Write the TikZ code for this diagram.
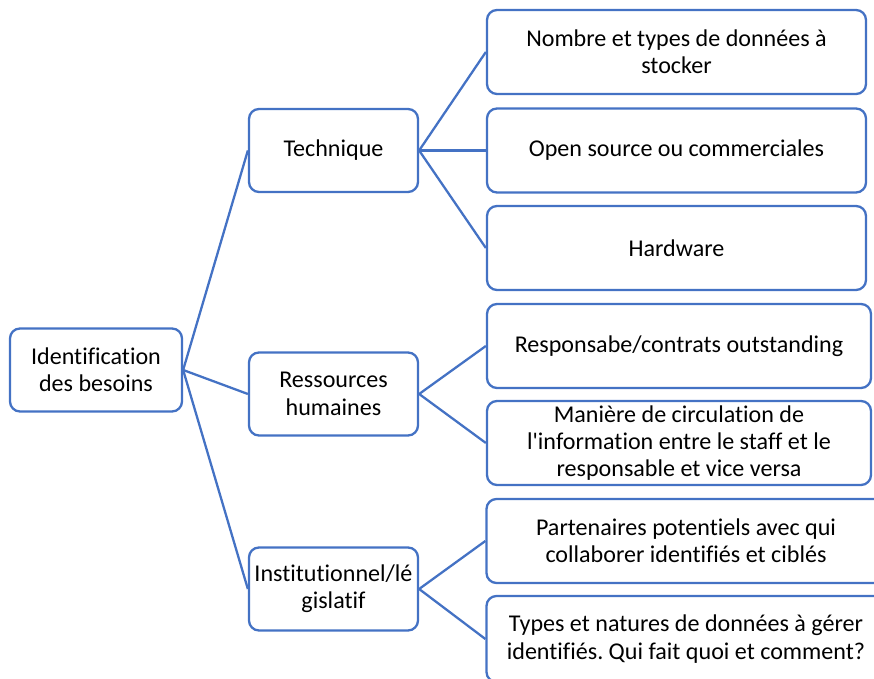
\documentclass[tikz,border=0pt]{standalone}
\usepackage{fontspec}
\setmainfont{Carlito}[Ligatures=NoCommon]
\usepackage{xcolor}
\definecolor{boxblue}{RGB}{68,114,196}
\usetikzlibrary{positioning}
\frenchspacing

\begin{document}
\begin{tikzpicture}[
  box/.style={draw=boxblue, line width=1.3pt, rounded corners=0.2cm, fill=white,
    align=center, font=\fontsize{13.7}{15.6}\selectfont, inner sep=2pt},
  rootbox/.style={box, minimum width=3.44cm, minimum height=1.66cm},
  midbox/.style={box, minimum width=3.38cm, minimum height=1.66cm},
  leafbox/.style={box, minimum width=7.58cm, minimum height=1.68cm},
  link/.style={draw=boxblue, line width=1.3pt}
]
  \useasboundingbox (0,0) rectangle (17.48,-13.58);
  \clip (0,0) rectangle (17.48,-13.58);
  % first level
  \node[rootbox] (root) at (1.92,-7.40) {Identification\\des besoins};
  % second level
  \node[midbox] (tech) at (6.67,-3.01) {Technique};
  \node[midbox] (rh) at (6.67,-7.88) {Ressources\\humaines};
  \node[midbox] (inst) at (6.67,-11.78) {Institutionnel/lé\\gislatif};
  % third level
  \node[leafbox] (t1) at (13.53,-1.04) {Nombre et types de données à\\stocker};
  \node[leafbox] (t2) at (13.53,-3.01) {Open source ou commerciales};
  \node[leafbox] (t3) at (13.53,-4.96) {Hardware};
  \node[leafbox, minimum width=7.68cm] (r1) at (13.58,-6.92) {Responsabe/contrats outstanding};
  \node[leafbox, minimum width=7.68cm] (r2) at (13.58,-8.86) {Manière de circulation de\\l\textquotesingle information entre le staff et le\\responsable et vice versa};
  \node[leafbox, minimum width=7.98cm] (i1) at (13.72,-10.82) {Partenaires potentiels avec qui\\collaborer identifiés et ciblés};
  \node[leafbox, minimum width=7.98cm, minimum height=1.72cm] (i2) at (13.72,-12.78) {Types et natures de données à gérer\\identifiés. Qui fait quoi et comment?};
  % connectors
  \draw[link] (root.east) -- (tech.west);
  \draw[link] (root.east) -- (rh.west);
  \draw[link] (root.east) -- (inst.west);
  \draw[link] (tech.east) -- (t1.west);
  \draw[link] (tech.east) -- (t2.west);
  \draw[link] (tech.east) -- (t3.west);
  \draw[link] (rh.east) -- (r1.west);
  \draw[link] (rh.east) -- (r2.west);
  \draw[link] (inst.east) -- (i1.west);
  \draw[link] (inst.east) -- (i2.west);
\end{tikzpicture}
\end{document}
